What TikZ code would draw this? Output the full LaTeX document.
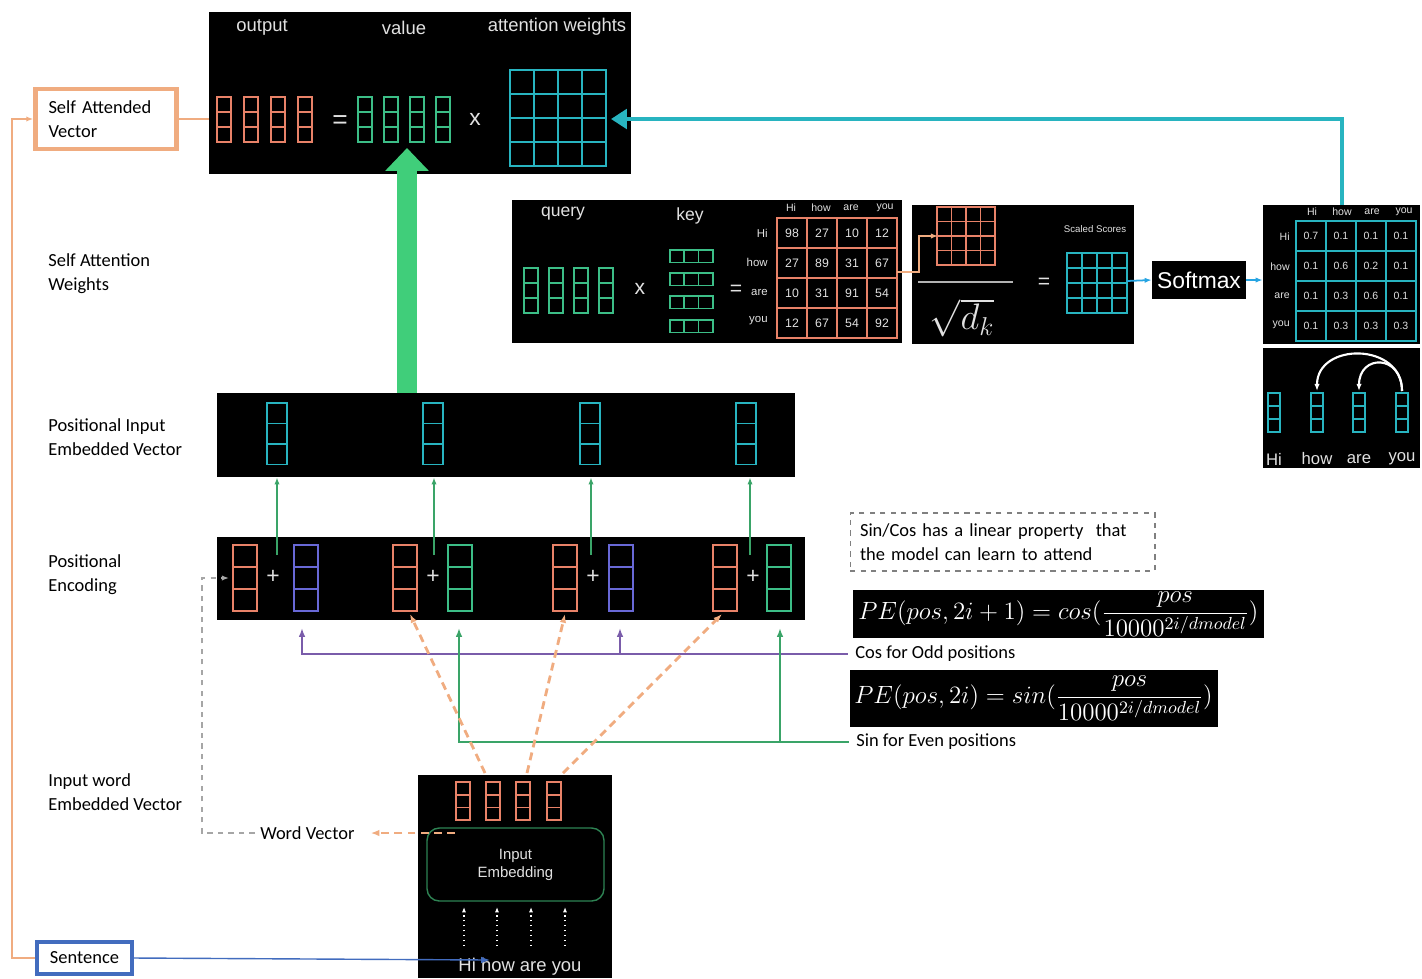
\RequirePackage{fix-cm}
\documentclass[tikz,border=0pt]{standalone}
\usepackage{fontspec}
\setmainfont{Carlito}
\newfontfamily\panelfont{Liberation Sans}
\usetikzlibrary{arrows.meta,fit,positioning}

\definecolor{salmon}{RGB}{232,130,104}
\definecolor{peach}{RGB}{240,172,128}
\definecolor{mint}{RGB}{60,190,135}
\definecolor{cyanteal}{RGB}{40,180,192}
\definecolor{bigg}{RGB}{64,206,122}
\definecolor{sentblue}{RGB}{66,108,190}
\definecolor{vecblue}{RGB}{104,104,214}
\definecolor{oddpurple}{RGB}{122,92,170}
\definecolor{evengreen}{RGB}{58,164,104}
\definecolor{skyblue}{RGB}{38,164,226}
\definecolor{paneltext}{RGB}{225,225,225}

\tikzset{
  panel/.style={fill=black, inner sep=0pt},
  sidelabel/.style={anchor=west, align=left, inner sep=0pt,
    font=\fontsize{10.5}{13.6}\selectfont},
  ptext/.style={text=paneltext, inner sep=0pt,
    font=\panelfont\fontsize{#1}{#1}\selectfont},
  ptext/.default=9.5,
  thinarrow/.style={line width=0.8pt, -{Latex[length=4pt]}},
  dashsal/.style={peach, line width=1.6pt, dash pattern=on 4.5pt off 3pt, -{Latex[length=5pt]}}
}

% 格子: 左上角 x, y, 列数, 行数, 格宽, 格高, 样式
\newcommand{\cellgrid}[7]{%
  \foreach \gx in {1,...,#3}{%
    \foreach \gy in {1,...,#4}{%
      \draw[#7] ({#1+(\gx-1)*#5},{#2+(\gy-1)*#6}) rectangle ++(#5,#6);}}}

\begin{document}
\begin{tikzpicture}[x=0.02cm, y=-0.02cm]
\useasboundingbox (0,0) rectangle (1422,978);

% 左侧说明
\node[sidelabel] (lsaw) at (48,274) {Self Attention\\Weights};
\node[sidelabel] (lpie) at (48,437) {Positional Input\\Embedded Vector};
\node[sidelabel] (lpe) at (48,575) {Positional\\Encoding};
\node[sidelabel] (liw) at (48,792) {Input word\\Embedded Vector};

% output = value x attention weights
\node[panel, fit={(209,12) (631,174)}] (top) {};
\node[ptext=10.5] (tout) at (262,27) {output};
\node[ptext=10.5] (tval) at (404,28) {value};
\node[ptext=10.5] (tatt) at (557,27) {attention weights};
\foreach \x in {217,244,271,298} {\cellgrid{\x}{97}{1}{3}{14}{15}{salmon, line width=1pt}}
\node[ptext=15] (teq) at (340,122) {=};
\foreach \x in {358,384,410,436} {\cellgrid{\x}{97}{1}{3}{14}{15}{mint, line width=1pt}}
\node[ptext=13] (tx) at (475,119) {x};
\cellgrid{510}{70}{4}{4}{24}{24}{cyanteal, line width=1.2pt}
\coordinate (attin) at (611,119);

% Self Attended Vector / Sentence
\node[draw=peach, line width=2.5pt, fill=white, text width=2.3cm, inner xsep=0.26cm,
  minimum height=1.2cm, align=left, font=\fontsize{10.5}{13.6}\selectfont] (sav) at (106,119) {Self Attended\\Vector};
\node[draw=sentblue, line width=2.5pt, fill=white, minimum width=1.9cm, minimum height=0.64cm,
  font=\fontsize{10.5}{12}\selectfont] (sent) at (84.5,958) {Sentence};
\coordinate (loopx) at (12,0);
\draw[peach, thinarrow] (sent.west) -- (sent.west -| loopx) -- (sav.west -| loopx) -- (sav.west);
\draw[peach, line width=0.8pt] (sav.east) -- (sav.east -| top.west);

% query x key
\node[panel, fit={(512,200) (902,343)}] (qk) {};
\node[ptext=10] (tq) at (563,214) {query};
\node[ptext=10] (tk) at (690,216) {key};
\foreach \x in {524,549,574,599} {\cellgrid{\x}{268}{1}{3}{14}{15}{mint, line width=1pt}}
\node[ptext=12] (qx) at (640,289) {x};
\foreach \y in {250,273,296,320} {\cellgrid{670}{\y}{3}{1}{14.3}{12.5}{mint, line width=1pt}}
\node[ptext=12] (qeq) at (736,290) {=};
\foreach \w/\y in {Hi/233,how/262,are/292,you/321} \node[ptext=6.5, anchor=east] (qr\w) at (768,\y) {\w};
\foreach \w/\x in {Hi/791,how/821,are/851,you/885} \node[ptext=6] (qc\w) at (\x,208) {\w};
\cellgrid{777}{218}{4}{4}{30}{30}{salmon, line width=1.6pt}
\foreach \row [count=\r] in {{98,27,10,12},{27,89,31,67},{10,31,91,54},{12,67,54,92}}
  \foreach \v [count=\c] in \row \node[ptext=7] (s\r\c) at (762+30*\c, 203+30*\r) {\v};
\coordinate (sout) at (897,272);
\coordinate (sin) at (938,236);

% 除以 sqrt(d_k)
\node[panel, fit={(912,205) (1134,344)}] (dk) {};
\cellgrid{937}{207}{4}{4}{14.5}{14.5}{salmon, line width=1pt}
\draw[peach, line width=1pt, -{Latex[length=4pt]}] (sout) -- ++(22,0) |- (sin);
\draw[gray!60, line width=1.3pt] (918,282) -- (1013,282);
\node[text=paneltext, font=\fontsize{21}{21}\selectfont] (sq) at (962,318) {$\sqrt{d_k}$};
\node[ptext=12] (deq) at (1044,283) {=};
\node[ptext=5.5] (tss) at (1095,229) {Scaled Scores};
\cellgrid{1067}{253}{4}{4}{15}{15}{cyanteal, line width=1pt}
\coordinate (ssout) at (1127,281);

% Softmax
\node[fill=black, text=white, font=\panelfont\fontsize{13}{13}\selectfont, minimum width=1.88cm,
  minimum height=0.76cm, inner sep=0pt] (soft) at (1199,280) {Softmax};
\node[panel, fit={(1263,205) (1420,344)}] (sm) {};
\draw[skyblue, line width=1pt, -{Latex[length=4pt]}] (ssout) -- (soft.west);
\draw[skyblue, line width=1pt, -{Latex[length=4pt]}] (soft.east) -- (soft.east -| sm.west);
\foreach \w/\x in {Hi/1312,how/1342,are/1372,you/1404} \node[ptext=6] (mc\w) at (\x,212) {\w};
\foreach \w/\y in {Hi/237,how/267,are/296,you/325} \node[ptext=6, anchor=east] (mr\w) at (1290,\y) {\w};
\cellgrid{1296}{221}{4}{4}{30}{30}{cyanteal, line width=1.6pt}
\foreach \row [count=\r] in {{0.7,0.1,0.1,0.1},{0.1,0.6,0.2,0.1},{0.1,0.3,0.6,0.1},{0.1,0.3,0.3,0.3}}
  \foreach \v [count=\c] in \row \node[ptext=6] (m\r\c) at (1281+30*\c, 206+30*\r) {\v};
\coordinate (smtop) at (1342,205);
\draw[cyanteal, line width=2.8pt, -{Triangle[length=9pt, width=11pt]}] (smtop) |- (attin);

% 词之间的关注
\node[panel, fit={(1263,348) (1420,468)}] (rel) {};
\foreach \x/\w in {1268/Hi,1311/how,1353/are,1396/you} {
  \cellgrid{\x}{393}{1}{3}{12}{13}{cyanteal, line width=1pt}
  \node[ptext=9.5] (rw\w) at (\x+6,459) {\w};
}
\coordinate (ryou) at (1402,391);
\coordinate (rhow) at (1317,391);
\coordinate (rare) at (1359,391);
\draw[white, line width=1.2pt, -{Latex[length=4pt]}] (ryou) .. controls (1402,342) and (1317,342) .. (rhow);
\draw[white, line width=1.2pt, -{Latex[length=4pt]}] (ryou) .. controls (1402,354) and (1359,354) .. (rare);

% Positional Input Embedded Vector
\node[panel, fit={(217,393) (795,477)}] (pie) {};
\foreach \x in {267,423,580,736} {\cellgrid{\x}{403}{1}{3}{20}{20.5}{cyanteal, line width=1pt}}
\coordinate (vtip) at (407,148);
\draw[bigg, line width=11pt, -{Triangle[width=24pt, length=13pt]}] (pie.north -| vtip) -- (vtip);

% Positional Encoding
\node[panel, fit={(217,537) (805,620)}] (pe) {};
\foreach \s/\p/\c in {233/294/vecblue, 393/448/mint, 553/609/vecblue, 713/767/mint} {
  \cellgrid{\s}{545}{1}{3}{24}{22}{salmon, line width=1pt}
  \cellgrid{\p}{545}{1}{3}{24}{22}{\c, line width=1pt}
  \node[ptext=13] (plus\s) at (\s+40,577) {+};
}
\foreach \x in {277,434,591,750} {
  \coordinate (up\x) at (\x,555);
  \draw[evengreen, thinarrow] (up\x) -- (up\x |- pie.south);
}

% 公式
\node[draw=gray, dashed, line width=0.6pt, minimum width=6.1cm, minimum height=1.16cm, text width=5.7cm,
  inner xsep=0.2cm, align=left, font=\fontsize{10.5}{13.6}\selectfont] (note) at (1002.5,542)
  {Sin/Cos has a linear property\ \ that\\the model can learn to attend};
\node[panel, fit={(853,590) (1264,638)}] (fcos) {};
\node[text=white, anchor=west, inner sep=0pt, font=\fontsize{14.2}{16}\selectfont] (fcost) at (858,614)
  {$PE(pos,2i+1)=cos(\displaystyle\frac{pos}{10000^{2i/dmodel}})$};
\node[panel, fit={(850,670) (1218,727)}] (fsin) {};
\node[text=white, anchor=west, inner sep=0pt, font=\fontsize{14.2}{16}\selectfont] (fsint) at (854,698)
  {$PE(pos,2i)=sin(\displaystyle\frac{pos}{10000^{2i/dmodel}})$};
\node[sidelabel] (odd) at (855,654) {Cos for Odd positions};
\node[sidelabel] (even) at (856,742) {Sin for Even positions};
\coordinate (o1) at (302,628);
\coordinate (o2) at (620,628);
\coordinate (e1) at (459,628);
\coordinate (e2) at (780,628);
\draw[oddpurple, line width=1pt, -{Latex[length=5pt]}] ([xshift=-4pt]odd.west) -| (o1);
\draw[oddpurple, line width=1pt, -{Latex[length=5pt]}] (odd.west -| o2) -- (o2);
\draw[evengreen, line width=1pt, -{Latex[length=5pt]}] ([xshift=-4pt]even.west) -| (e1);
\draw[evengreen, line width=1pt, -{Latex[length=5pt]}] (even.west -| e2) -- (e2);

% Input Embedding
\node[panel, fit={(418,775) (612,978)}] (emb) {};
\foreach \x in {456,486,516,547} {\cellgrid{\x}{782}{1}{3}{14}{12.7}{salmon, line width=1pt}}
\node[draw=evengreen!80!black, rounded corners=7pt, line width=0.8pt, minimum width=3.54cm,
  minimum height=1.46cm, align=center, text=paneltext, font=\panelfont\fontsize{8.5}{10.2}\selectfont] (ie) at (515.5,864.5) {Input\\Embedding};
\foreach \x in {464,497,531,565} {
  \coordinate (w\x) at (\x,946);
  \draw[white, dotted, line width=0.8pt, -{Latex[length=3pt]}] (w\x) -- ([yshift=-3pt]w\x |- ie.south);
}
\node[ptext=10.5] (words) at (520,967) {Hi how are you};
\coordinate (hiend) at (490,960);
\draw[sentblue, line width=0.8pt, -{Latex[length=5pt]}] (sent.east) -- (hiend);

% Word Vector
\node[sidelabel] (wv) at (260,833) {Word Vector};
\coordinate (wvs) at (455,833);
\coordinate (gcorner) at (202,833);
\coordinate (pein) at (229,578);
\draw[gray!70, dashed, line width=0.8pt, -{Latex[length=4pt]}] ([xshift=-3pt]wv.west) -- (gcorner) |- (pein);
\draw[dashsal] (wvs) -- ([xshift=9pt]wv.east);
\foreach \a/\b in {485/410, 527/565, 563/722} {
  \coordinate (ds\a) at (\a,773);
  \coordinate (de\b) at (\b,614);
  \draw[dashsal] (ds\a) -- (de\b);
}
\end{tikzpicture}
\end{document}
